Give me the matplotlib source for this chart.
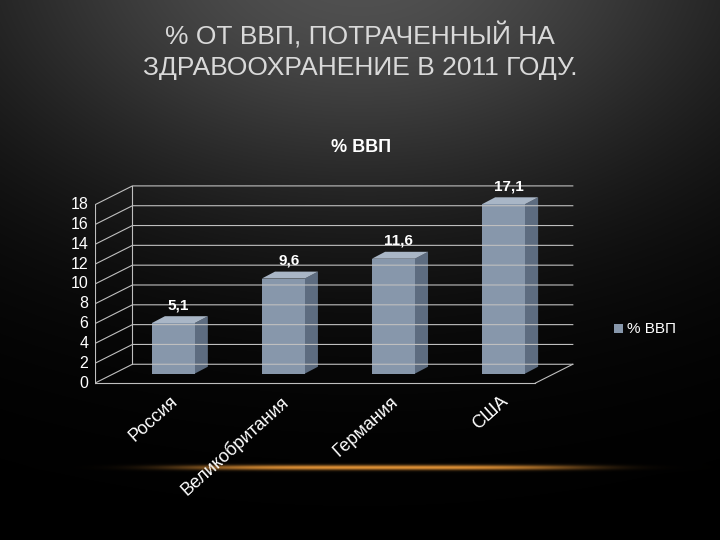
import numpy as np
import matplotlib
matplotlib.use("Agg")
import matplotlib.pyplot as plt
from matplotlib.patches import Polygon

categories = ["Россия", "Великобритания", "Германия", "США"]
values = [5.1, 9.6, 11.6, 17.1]
value_labels = ["5,1", "9,6", "11,6", "17,1"]
yticks = [0, 2, 4, 6, 8, 10, 12, 14, 16, 18]

fig = plt.figure(figsize=(7.2, 5.4), dpi=100)
bg = fig.add_axes([0, 0, 1, 1])
yy, xx = np.mgrid[0:540, 0:720]
glow = 0.32 * np.exp(-(((xx - 360) / 420) ** 2 + ((yy + 40) / 260) ** 2))
img = np.dstack([glow, glow, glow])
line = np.exp(-((yy - 467) / 2.5) ** 2) * np.exp(-((xx - 380) / 200) ** 4)
img[..., 0] += 0.85 * line
img[..., 1] += 0.55 * line
img[..., 2] += 0.2 * line
bg.imshow(np.clip(img, 0, 1), aspect="auto", extent=[0, 720, 540, 0])
bg.axis("off")

title = "% ОТ ВВП, ПОТРАЧЕННЫЙ НА\nЗДРАВООХРАНЕНИЕ В 2011 ГОДУ."
title = "\n".join("\u2009".join(s) if False else s for s in title.split("\n"))
fig.text(0.5, 0.905, title, ha="center", va="center", color="#d9d9d9", fontsize=19,
         linespacing=1.35, family="Liberation Sans")
fig.text(0.502, 0.727, "% ВВП", ha="center", va="center", color="white",
         fontsize=13, fontweight="bold", family="Liberation Sans")

ax = fig.add_axes([95 / 720, 1 - 393 / 540, 480 / 720, 218 / 540])
ax.set_xlim(-0.61, 3.75)
ax.set_ylim(-1, 21)
ax.axis("off")
DX, DY = 0.34, 1.9
x0, x1 = -0.61, 3.39
gc = "#bfbfbf"
for t in yticks:
    ax.plot([x0, x0 + DX, x1 + DX], [t, t + DY, t + DY], color=gc, lw=0.8)
    ax.text(x0 - 0.06, t, str(t), ha="right", va="center", color="white",
            fontsize=11.5, family="Liberation Sans", clip_on=False)
ax.plot([x0 + DX, x0 + DX], [DY, 18 + DY], color=gc, lw=0.8)
ax.plot([x0, x0], [0, 18], color=gc, lw=0.8)
ax.plot([x0, x1], [0, 0], color=gc, lw=0.8)
ax.plot([x1, x1 + DX], [0, DY], color=gc, lw=0.8)

bw, bdx, bdy = 0.39, 0.12, 0.7
ox, oy = 0.1, 0.95
for i, v in enumerate(values):
    l, r = i - bw / 2 + ox, i + bw / 2 + ox
    b, t = oy, v + oy
    ax.add_patch(Polygon([(r, b), (r + bdx, b + bdy), (r + bdx, t + bdy), (r, t)],
                         fc="#5d6c80", ec="none"))
    ax.add_patch(Polygon([(l, t), (l + bdx, t + bdy), (r + bdx, t + bdy), (r, t)],
                         fc="#a9b6c6", ec="none"))
    ax.add_patch(Polygon([(l, b), (r, b), (r, t), (l, t)], fc="#8797ab", ec="none"))
    ax.text(i + ox + 0.05, t + bdy + 0.4, value_labels[i], ha="center", va="bottom",
            color="white", fontsize=11, fontweight="bold", family="Liberation Sans")
    ax.text(i + 0.07, -1.0, categories[i], ha="right", va="top", rotation=42,
            rotation_mode="anchor", color="white", fontsize=13,
            family="Liberation Sans", clip_on=False)

fig.patches.append(plt.Rectangle((614 / 720, 1 - 333 / 540), 9 / 720, 9 / 540,
                                 transform=fig.transFigure, fc="#8797ab"))
fig.text(627 / 720, 1 - 329 / 540, "% ВВП", ha="left", va="center", color="white",
         fontsize=11, family="Liberation Sans")

fig.savefig("out.png", dpi=100, facecolor="black")
